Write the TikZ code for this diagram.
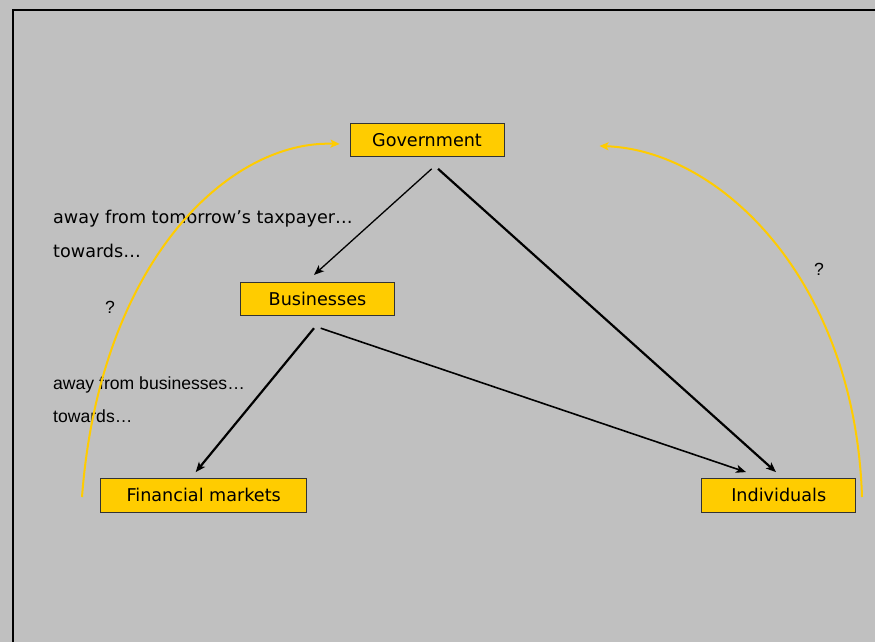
\documentclass[tikz,border=0pt]{standalone}
\usepackage{fontspec}
\setmainfont{DejaVu Sans}
\newfontfamily\arialfont{Liberation Sans}
\usetikzlibrary{arrows.meta,calc}
\definecolor{slidegray}{HTML}{C0C0C0}
\definecolor{boxgold}{HTML}{FFCC00}
\newcommand{\slidefont}{\fontsize{17.6}{20}\selectfont}

\begin{document}
\begin{tikzpicture}[
    x=1pt,y=-1pt,
    actor/.style={draw=black!80,line width=0.9pt,fill=boxgold,
                  minimum height=33.5pt,text height=13pt,text depth=0pt,
                  font=\slidefont},
    flowline/.style={line width=#1,draw=black,
                     -{Stealth[length=10pt,width=8pt,inset=2.5pt]}},
    flowline/.default={2.2pt},
    loopline/.style={line width=2pt,draw=boxgold,
                     -{Stealth[length=9pt,width=8pt,inset=2pt]}},
    notetext/.style={anchor=base west,inner sep=0pt,font=\slidefont},
    noteplain/.style={anchor=base west,inner sep=0pt,font=\arialfont\slidefont},
  ]
  % slide background and frame
  \fill[slidegray] (0,0) rectangle (875,642);
  \useasboundingbox (0,0) rectangle (875,642);
  \draw[line width=2pt] (13,642) -- (13,10) -- (875,10);

  % boxes
  \node[actor,minimum width=154pt] (gov) at (427,140) {Government};
  \node[actor,minimum width=153.6pt] (bus) at (317.5,298.7) {Businesses};
  \node[actor,minimum width=206pt] (fin) at (203.7,495.3) {Financial markets};
  \node[actor,minimum width=154pt] (ind) at (778.7,495.3) {Individuals};

  % side notes
  \node[notetext] (taxfrom) at (53,223.3) {away from tomorrow’s taxpayer…};
  \node[notetext] (taxto) at (53,257) {towards…};
  \node[noteplain] (busfrom) at (53,389.3) {away from businesses…};
  \node[noteplain] (busto) at (53,422.7) {towards…};
  \node[noteplain] (askleft) at (105,313.3) {?};
  \node[noteplain] (askright) at (814,275) {?};

  % flows downwards
  \draw[flowline=1.3pt] ([xshift=4.7pt,yshift=-11.6pt]gov.south)
    -- ([xshift=-3.5pt,yshift=6.6pt]bus.north);
  \draw[flowline] ([xshift=11pt,yshift=-11.6pt]gov.south)
    -- ([xshift=-2.7pt,yshift=6pt]ind.north);
  \draw[flowline] ([xshift=-3.5pt,yshift=-12.3pt]bus.south)
    -- ([xshift=-8pt,yshift=6pt]fin.north);
  \draw[flowline=1.6pt] ([xshift=3.2pt,yshift=-12.3pt]bus.south)
    -- ([xshift=-32.7pt,yshift=6pt]ind.north);

  % loops back to government
  \coordinate (finloop) at (82,497);
  \coordinate (indloop) at (862,497);
  \draw[loopline] (finloop) .. controls (100,260) and (230,140)
    .. ([xshift=-10pt,yshift=-4pt]gov.west);
  \draw[loopline] (indloop) .. controls (855,280) and (720,150)
    .. ([xshift=95pt,yshift=-6pt]gov.east);
\end{tikzpicture}
\end{document}
